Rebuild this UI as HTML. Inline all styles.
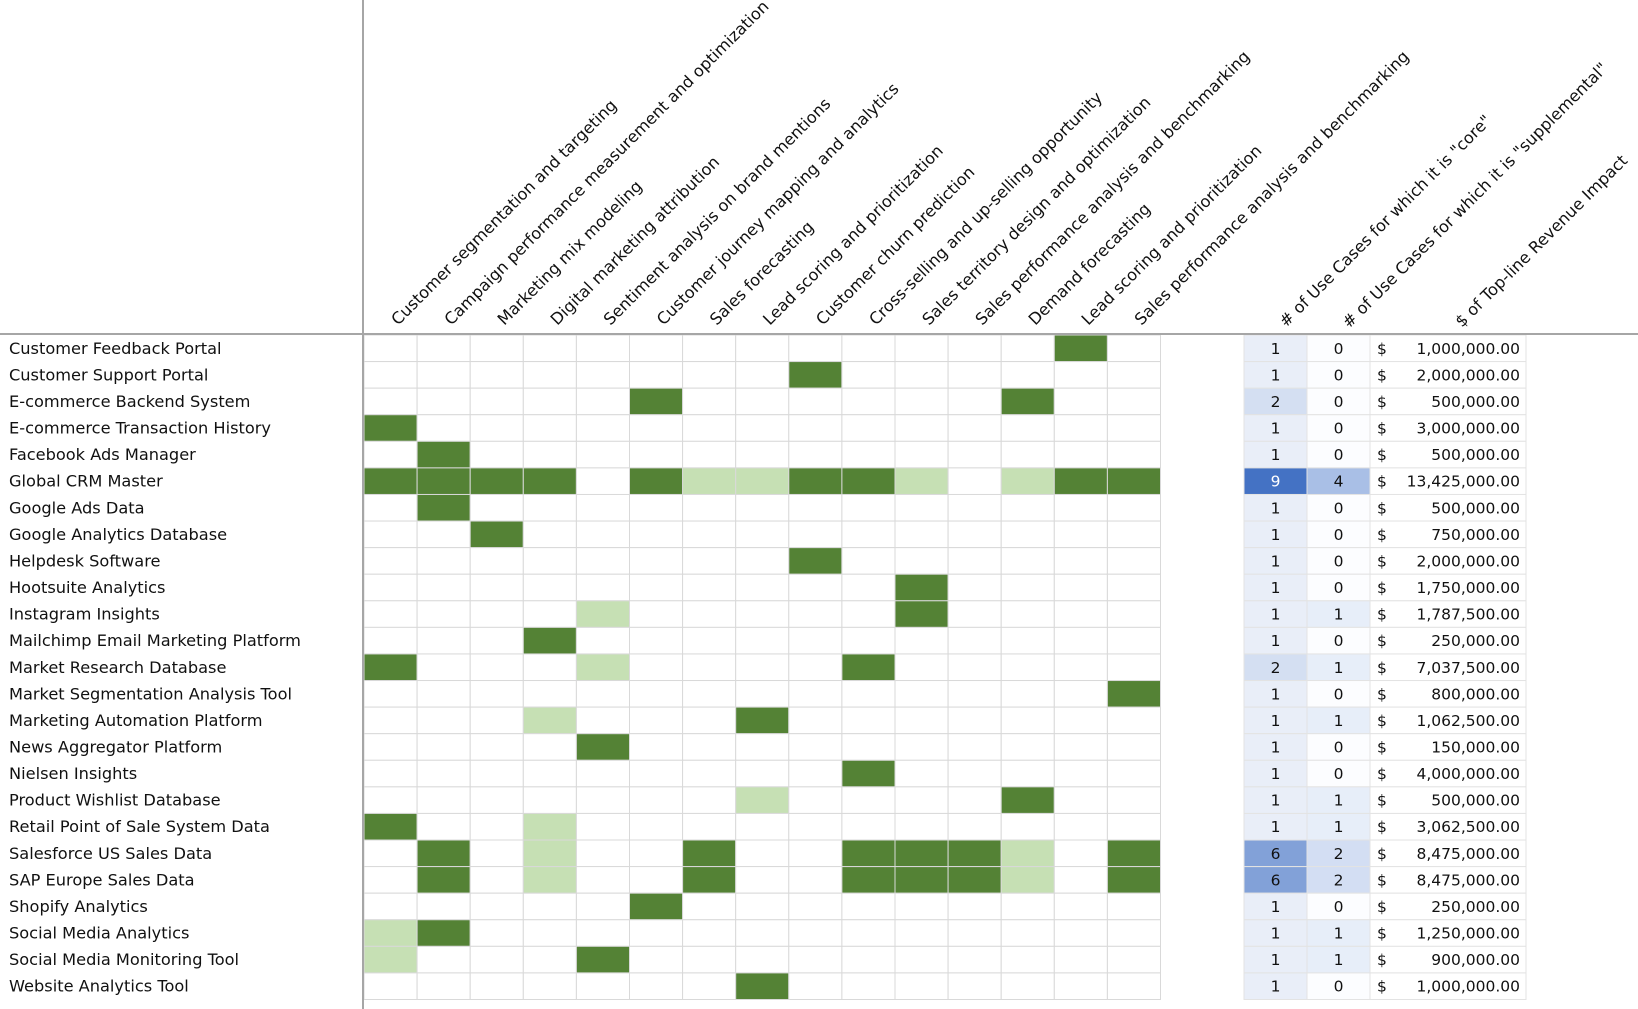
<!DOCTYPE html>
<html><head><meta charset="utf-8"><style>
html,body{margin:0;padding:0;background:#fff;}
svg{display:block;font-family:"DejaVu Sans","Liberation Sans",sans-serif;}
</style></head><body>
<svg id="chart" width="1638" height="1009" viewBox="0 0 1638 1009" xmlns="http://www.w3.org/2000/svg"></svg>
<script>
const sources = ["Customer Feedback Portal","Customer Support Portal","E-commerce Backend System","E-commerce Transaction History","Facebook Ads Manager","Global CRM Master","Google Ads Data","Google Analytics Database","Helpdesk Software","Hootsuite Analytics","Instagram Insights","Mailchimp Email Marketing Platform","Market Research Database","Market Segmentation Analysis Tool","Marketing Automation Platform","News Aggregator Platform","Nielsen Insights","Product Wishlist Database","Retail Point of Sale System Data","Salesforce US Sales Data","SAP Europe Sales Data","Shopify Analytics","Social Media Analytics","Social Media Monitoring Tool","Website Analytics Tool"];
const useCases = ["Customer segmentation and targeting","Campaign performance measurement and optimization","Marketing mix modeling","Digital marketing attribution","Sentiment analysis on brand mentions","Customer journey mapping and analytics","Sales forecasting","Lead scoring and prioritization","Customer churn prediction","Cross-selling and up-selling opportunity","Sales territory design and optimization","Sales performance analysis and benchmarking","Demand forecasting","Lead scoring and prioritization","Sales performance analysis and benchmarking"];
// 2 = core, 1 = supplemental, 0 = none
const matrix = ["000000000000020","000000002000000","000002000000200","200000000000000","020000000000000","222202112210122","020000000000000","002000000000000","000000002000000","000000000020000","000010000020000","000200000000000","200010000200000","000000000000002","000100020000000","000020000000000","000000000200000","000000010000200","200100000000000","020100200222102","020100200222102","000002000000000","120000000000000","100020000000000","000000020000000"];
const coreCounts = [1,1,2,1,1,9,1,1,1,1,1,1,2,1,1,1,1,1,1,6,6,1,1,1,1];
const suppCounts = [0,0,0,0,0,4,0,0,0,0,1,0,1,0,1,0,0,1,1,2,2,0,1,1,0];
const revenue = [1000000,2000000,500000,3000000,500000,13425000,500000,750000,2000000,1750000,1787500,250000,7037500,800000,1062500,150000,4000000,500000,3062500,8475000,8475000,250000,1250000,900000,1000000];
const extraHeaders = ['# of Use Cases for which it is "core"','# of Use Cases for which it is "supplemental"','$ of Top-line Revenue Impact'];

const NS="http://www.w3.org/2000/svg";
const svg=document.getElementById('chart');
const X0=364, CW=53.1, Y0=335, RH=26.58;
const xCol=i=>X0+i*CW;
const yRow=r=>Y0+r*RH;
const numX=[1244,1307,1370,1526];
function mk(tag,attrs,parent){const e=document.createElementNS(NS,tag);for(const k in attrs)e.setAttribute(k,attrs[k]);(parent||svg).appendChild(e);return e;}
function mix(a,b,t){const pa=[parseInt(a.slice(1,3),16),parseInt(a.slice(3,5),16),parseInt(a.slice(5,7),16)],pb=[parseInt(b.slice(1,3),16),parseInt(b.slice(3,5),16),parseInt(b.slice(5,7),16)];return 'rgb('+pa.map((v,i)=>Math.round(v+(pb[i]-v)*t)).join(',')+')';}
const fmt=v=>v.toLocaleString('en-US',{minimumFractionDigits:2,maximumFractionDigits:2});

const cellG=mk('g',{});


matrix.forEach((row,r)=>{
  row.split('').forEach((c,i)=>{
    const v=+c;
    const rect=mk('rect',{x:xCol(i),y:yRow(r),width:CW,height:RH,fill:v===2?'#548235':v===1?'#c6e0b4':'#ffffff',stroke:'#d9d9d9','stroke-width':1},cellG);
    
    
  });
});
sources.forEach((s,r)=>{
  const t=mk('text',{x:9,y:yRow(r)+RH/2+5.5,'font-size':16.2,fill:'#111'});
  t.textContent=s;
  
  
});
useCases.forEach((u,i)=>{
  const x=xCol(i)+34, y=326;
  const t=mk('text',{x:x,y:y,'font-size':16.2,fill:'#111',transform:`rotate(-45 ${x} ${y})`});
  t.textContent=u;
  
  
});
const maxCore=Math.max(...coreCounts), maxSupp=Math.max(...suppCounts,1);
sources.forEach((s,r)=>{
  const y=yRow(r);
  const cf=mix('#e9eef8','#4472c4',(coreCounts[r]-1)/Math.max(maxCore-1,1));
  const c1=mk('rect',{x:numX[0],y:y,width:numX[1]-numX[0],height:RH,fill:cf,stroke:'#e3e3e3'});
  
  
  const t1=mk('text',{x:(numX[0]+numX[1])/2,y:y+RH/2+5.5,'font-size':15.5,'text-anchor':'middle',fill:coreCounts[r]===maxCore?'#fff':'#111'});
  t1.textContent=coreCounts[r];
  
  
  const sf=mix('#fcfdff','#a9bfe6',suppCounts[r]/maxSupp);
  const c2=mk('rect',{x:numX[1],y:y,width:numX[2]-numX[1],height:RH,fill:sf,stroke:'#e3e3e3'});
  
  
  const t2=mk('text',{x:(numX[1]+numX[2])/2,y:y+RH/2+5.5,'font-size':15.5,'text-anchor':'middle',fill:'#111'});
  t2.textContent=suppCounts[r];
  
  
  const c3=mk('rect',{x:numX[2],y:y,width:numX[3]-numX[2],height:RH,fill:'#fff',stroke:'#e3e3e3'});
  
  
  const d=mk('text',{x:numX[2]+7,y:y+RH/2+5.5,'font-size':15.5,fill:'#111'});
  d.textContent='$';
  
  
  const t3=mk('text',{x:numX[3]-6,y:y+RH/2+5.5,'font-size':15.5,'text-anchor':'end',fill:'#111'});
  t3.textContent=fmt(revenue[r]);
  
  
});
[[1286,328],[1349,329],[1462,328]].forEach((p,i)=>{
  const t=mk('text',{x:p[0],y:p[1],'font-size':16.2,fill:'#111',transform:`rotate(-45 ${p[0]} ${p[1]})`});
  t.textContent=extraHeaders[i];
  
  
});
const hl=mk('line',{x1:0,y1:Y0-1,x2:1638,y2:Y0-1,stroke:'#a6a6a6','stroke-width':2});


const vl=mk('line',{x1:X0-1,y1:0,x2:X0-1,y2:1009,stroke:'#a6a6a6','stroke-width':2});


</script>
</body></html>
